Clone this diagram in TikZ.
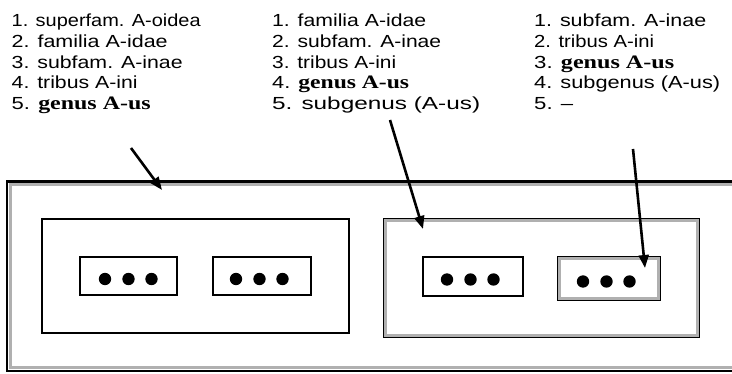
\documentclass[tikz,border=0pt]{standalone}
\usepackage{fontspec}
\usepackage{graphicx}
\setmainfont{Liberation Sans}
\newfontfamily\serifgen{Liberation Serif}
\usetikzlibrary{arrows.meta,calc}
\newcommand\genusbf[1]{{\serifgen\bfseries\fontsize{19}{20}\selectfont #1}}
\newcommand\fitw[2]{\resizebox{#1pt}{\height}{#2}}
\begin{document}
\begin{tikzpicture}[x=1pt,y=-1pt,
  txt/.style={anchor=base west, inner sep=0pt, font=\fontsize{17.5}{20}\selectfont},
  plainbox/.style={draw=black, line width=1.8pt, fill=white, inner sep=0pt},
  hlbox/.style={draw=black, line width=2.4pt, fill=white, inner sep=0pt},
  band/.style={draw=gray!62, line width=3pt},
  outerline/.style={draw=black, line width=2.4pt},
  pointer/.style={line width=2.6pt, -{Triangle[length=13pt,width=10pt]}},
  dot/.style={fill=black}
]
\useasboundingbox (0,0) rectangle (732,374);

% ---- text columns ----
\node[txt] (c1l1) at (11.5,26.5)  {\fitw{189}{1. superfam. A-oidea}};
\node[txt] (c1l2) at (11.5,47.3)  {\fitw{156}{2. familia A-idae}};
\node[txt] (c1l3) at (11.5,68.1)  {\fitw{171}{3. subfam. A-inae}};
\node[txt] (c1l4) at (11.5,88.9)  {\fitw{126}{4. tribus A-ini}};
\node[txt] (c1l5) at (11.5,109.7) {\fitw{139}{5. \genusbf{genus A-us}}};

\node[txt] (c2l1) at (272,26.5)  {\fitw{154}{1. familia A-idae}};
\node[txt] (c2l2) at (272,47.3)  {\fitw{169}{2. subfam. A-inae}};
\node[txt] (c2l3) at (272,68.1)  {\fitw{124}{3. tribus A-ini}};
\node[txt] (c2l4) at (272,88.9)  {\fitw{137}{4. \genusbf{genus A-us}}};
\node[txt] (c2l5) at (272,109.7) {\fitw{208}{5. subgenus (A-us)}};

\node[txt] (c3l1) at (534,26.5)  {\fitw{172}{1. subfam. A-inae}};
\node[txt] (c3l2) at (534,47.3)  {\fitw{120}{2. tribus A-ini}};
\node[txt] (c3l3) at (534,68.1)  {\fitw{140}{3. \genusbf{genus A-us}}};
\node[txt] (c3l4) at (534,88.9)  {\fitw{186}{4. subgenus (A-us)}};
\node[txt] (c3l5) at (534,109.7) {\fitw{39}{5. –}};

% ---- outer (open) box ----
\draw[outerline] (733,181.5) -- (7,181.5) -- (7,371) -- (733,371);
\draw[band] (733,184.5) -- (10,184.5) -- (10,368) -- (733,368);

% ---- left middle box ----
\node[plainbox, minimum width=307pt, minimum height=114pt] (BL) at (195.5,276) {};
\node[plainbox, minimum width=97pt, minimum height=38pt] (B1) at (128.5,276) {};
\node[plainbox, minimum width=98pt, minimum height=38pt] (B2) at (262,276) {};

% ---- right middle box (highlighted) ----
\node[hlbox, minimum width=315pt, minimum height=118pt] (BR) at (541.5,278) {};
\draw[band] ($(BR.north west)+(2.8,2.8)$) rectangle ($(BR.south east)+(-2.8,-2.8)$);
\node[plainbox, minimum width=100pt, minimum height=39pt] (B3) at (473,276.5) {};
\node[hlbox, minimum width=102pt, minimum height=43pt] (B4) at (609,278.5) {};
\draw[band] ($(B4.north west)+(2.8,2.8)$) rectangle ($(B4.south east)+(-2.8,-2.8)$);

% ---- dots ----
\foreach \b/\o in {B1/0, B2/-2.5, B3/-2.5, B4/-2.5}{
  \foreach \dx in {-23.5,0,23}{
    \fill[dot] ($(\b.center)+(\dx+\o,3)$) circle (6.2pt);
  }
}

% ---- arrows ----
\coordinate (a1s) at (131,148);
\coordinate (a1e) at (162,190);
\coordinate (a2s) at (390,120);
\coordinate (a2e) at (423,229);
\coordinate (a3s) at (633,149);
\coordinate (a3e) at (645,268);
\draw[pointer] (a1s) -- (a1e);
\draw[pointer] (a2s) -- (a2e);
\draw[pointer] (a3s) -- (a3e);
\end{tikzpicture}
\end{document}
